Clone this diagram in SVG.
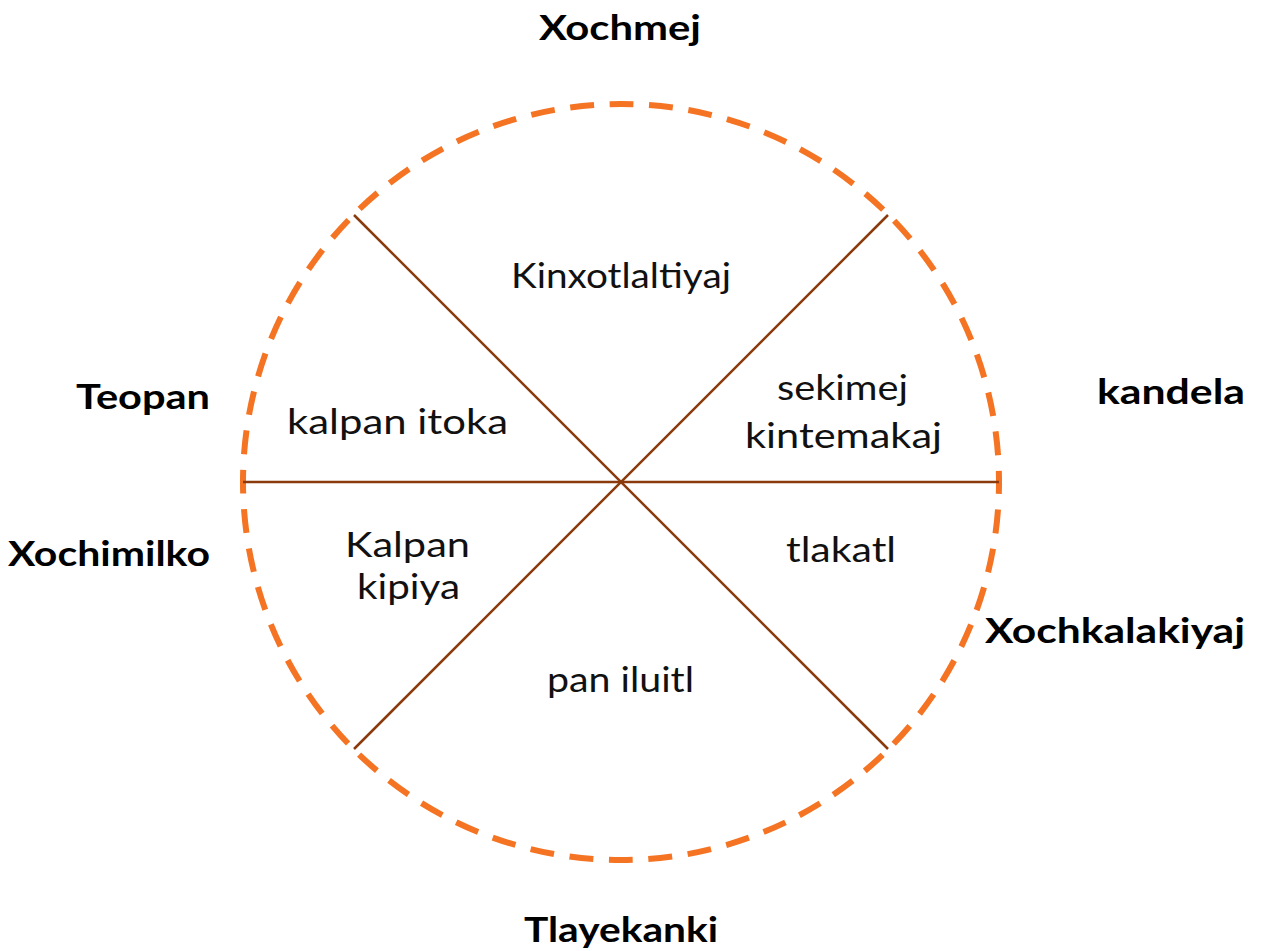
<svg xmlns="http://www.w3.org/2000/svg" width="1261" height="951" viewBox="0 0 1261 951">
<style>
.t{font-family:"Lato","Open Sans","DejaVu Sans",sans-serif;font-size:34px;fill:#111;}
.b{font-family:"Lato","Open Sans","DejaVu Sans",sans-serif;font-size:35px;font-weight:700;fill:#000;}
.ring{fill:none;stroke:#F47424;stroke-width:6;stroke-dasharray:24 15.58;stroke-dashoffset:12;}
.sp{stroke:#8B3A0C;stroke-width:2.5;fill:none;}
</style>
<rect width="1261" height="951" fill="#fff"/>
<g id="ring"><circle class="ring" cx="621" cy="482" r="378"/></g>
<g id="connectors">
<line class="sp" x1="243" y1="482" x2="999" y2="482"/>
<line class="sp" x1="354" y1="215" x2="888" y2="749"/>
<line class="sp" x1="888" y1="215" x2="354" y2="749"/>
</g>
<g id="outer-labels">
<g id="Xochmej"><text class="b" x="539" y="40" textLength="162" lengthAdjust="spacingAndGlyphs">Xochmej</text></g>
<g id="Tlayekanki"><text class="b" x="524" y="942" textLength="194" lengthAdjust="spacingAndGlyphs">Tlayekanki</text></g>
<g id="Teopan"><text class="b" x="76" y="409" textLength="134" lengthAdjust="spacingAndGlyphs">Teopan</text></g>
<g id="kandela"><text class="b" x="1097" y="404" textLength="148" lengthAdjust="spacingAndGlyphs">kandela</text></g>
<g id="Xochimilko"><text class="b" x="8" y="566" textLength="202" lengthAdjust="spacingAndGlyphs">Xochimilko</text></g>
<g id="Xochkalakiyaj"><text class="b" x="985" y="643" textLength="260" lengthAdjust="spacingAndGlyphs">Xochkalakiyaj</text></g>
</g>
<g id="sectors">
<g id="Kinxotlaltiyaj"><text class="t" x="511" y="288" textLength="220" lengthAdjust="spacingAndGlyphs">Kinxotlaltiyaj</text></g>
<g id="kalpan-itoka"><text class="t" x="287" y="434" textLength="221" lengthAdjust="spacingAndGlyphs">kalpan itoka</text></g>
<g id="sekimej-kintemakaj"><text class="t" x="777" y="400" textLength="131" lengthAdjust="spacingAndGlyphs">sekimej</text><text class="t" x="745" y="448" textLength="197" lengthAdjust="spacingAndGlyphs">kintemakaj</text></g>
<g id="Kalpan-kipiya"><text class="t" x="345" y="557" textLength="125" lengthAdjust="spacingAndGlyphs">Kalpan</text><text class="t" x="357" y="599" textLength="103" lengthAdjust="spacingAndGlyphs">kipiya</text></g>
<g id="tlakatl"><text class="t" x="786" y="562" textLength="110" lengthAdjust="spacingAndGlyphs">tlakatl</text></g>
<g id="pan-iluitl"><text class="t" x="547" y="692" textLength="147" lengthAdjust="spacingAndGlyphs">pan iluitl</text></g>
</g>
</svg>
